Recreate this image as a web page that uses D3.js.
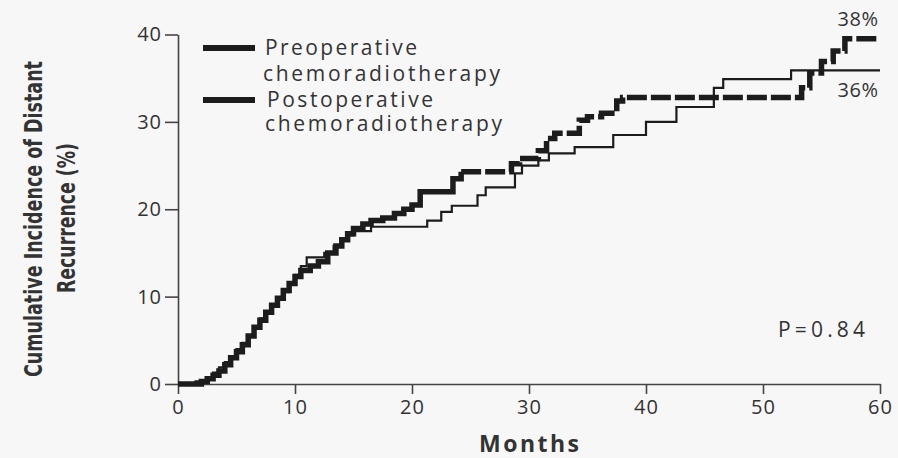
<!DOCTYPE html>
<html>
<head>
<meta charset="utf-8">
<script src="https://cdn.jsdelivr.net/npm/d3@7"></script>
<style>
  body { margin: 0; background: #f7f7f7; }
  text { fill: #333; }
</style>
</head>
<body>
<div id="chart"></div>
<script>
// Cumulative incidence of distant recurrence
const preopMonths = [0, 1.5, 2.5, 3, 3.5, 4, 4.5, 5, 5.5, 6, 6.5, 7, 7.5, 8, 8.5, 9, 9.5, 10, 10.5, 11, 12.5, 13.3, 14, 14.5, 15, 16.5,
  21.3, 22.5, 23.4, 25.6, 26.3, 28.8, 29.4, 30.8, 31.7, 33.9, 37.2, 40.0, 42.6, 45.8, 46.6, 52.4, 60];
const preopValues = [0, 0.3, 0.8, 1.3, 1.9, 2.5, 3.2, 4, 4.7, 5.5, 6.5, 7.5, 8.2, 9, 9.8, 10.5, 11.5, 12.5, 13.5, 14.5, 15, 15.8, 16.5, 17, 17.5, 18,
  18.7, 19.7, 20.4, 21.6, 22.5, 24.1, 25, 25.6, 26.4, 27.1, 28.5, 30, 31.7, 33.9, 34.9, 35.9, 35.9];

const postopMonths = [0, 2, 2.5, 3, 3.5, 4, 4.5, 5, 5.5, 6, 6.5, 7, 7.5, 8, 8.5, 9, 9.5, 10, 10.5, 11.3, 12, 12.8, 13.5, 14, 14.5, 15, 15.8, 16.5, 17.5, 18.5, 19.3, 20, 20.7,
  23.5, 24.2, 28.5, 29.2, 30.8, 31.5, 32.2, 34.3, 35, 36.2, 37.5, 38, 53.3, 54, 55, 56, 57, 60];
const postopValues = [0, 0.3, 0.6, 1.0, 1.5, 2.2, 3.0, 3.7, 4.5, 5.5, 6.5, 7.3, 8.2, 9, 9.8, 10.7, 11.5, 12.3, 13, 13.5, 14, 15, 15.8, 16.5, 17.2, 17.8, 18.3, 18.7, 19, 19.5, 20, 20.5, 22,
  23.5, 24.3, 25.2, 25.8, 26.7, 28.1, 28.7, 30.2, 30.6, 31, 32.4, 32.8, 33.9, 35.6, 36.9, 38.1, 39.5, 39.5];

const xTicks = [0, 10, 20, 30, 40, 50, 60];
const yTicks = [0, 10, 20, 30, 40];
const legendLabels = [["Preoperative", "chemoradiotherapy"], ["Postoperative", "chemoradiotherapy"]];
const endLabels = ["38%", "36%"];
const pValue = "P=0.84";

const W = 898, H = 458;
const svg = d3.select("#chart").append("svg")
    .attr("width", W).attr("height", H);

svg.append("rect").attr("width", W).attr("height", H).attr("fill", "#f7f7f7");

const x = d3.scaleLinear().domain([0, 60]).range([178, 880]);
const y = d3.scaleLinear().domain([0, 40]).range([384, 34.5]);

const tickFont = "'Open Sans', 'DejaVu Sans', sans-serif";

// x axis
const gx = svg.append("g")
    .attr("transform", `translate(0,${y(0)})`)
    .call(d3.axisBottom(x).tickValues(xTicks).tickSize(10).tickPadding(6).tickSizeOuter(0));
// y axis
const gy = svg.append("g")
    .attr("transform", `translate(${x(0)},0)`)
    .call(d3.axisLeft(y).tickValues(yTicks).tickSize(13).tickPadding(3).tickSizeOuter(0));

[gx, gy].forEach(g => {
  g.select(".domain").attr("stroke", "#444").attr("stroke-width", 1.6);
  g.selectAll(".tick line").attr("stroke", "#444").attr("stroke-width", 1.6);
  g.selectAll(".tick text")
      .attr("font-family", tickFont)
      .attr("font-size", 20)
      .attr("letter-spacing", 1)
      .attr("fill", "#333");
});
gx.selectAll(".tick text").attr("dy", "0.72em");

// curves
const line = d3.line()
    .x(d => x(d[0]))
    .y(d => y(d[1]))
    .curve(d3.curveStepAfter);

const preop = preopMonths.map((m, i) => [m, preopValues[i]]);
const postop = postopMonths.map((m, i) => [m, postopValues[i]]);

svg.append("path")
    .datum(preop)
    .attr("d", line)
    .attr("fill", "none")
    .attr("stroke", "#1c1c1c")
    .attr("stroke-width", 2.2);

// thick curve: solid while it climbs fast, dashed on the later long plateaus
const splitAt = 24.2;
svg.append("path")
    .datum(postop.filter(d => d[0] <= splitAt))
    .attr("d", line)
    .attr("fill", "none")
    .attr("stroke", "#1c1c1c")
    .attr("stroke-width", 5.5);
svg.append("path")
    .datum(postop.filter(d => d[0] >= splitAt))
    .attr("d", line)
    .attr("fill", "none")
    .attr("stroke", "#1c1c1c")
    .attr("stroke-width", 5.5)
    .attr("stroke-dasharray", "20,4");

// legend
const legendY = [48, 100];
legendLabels.forEach((lines, i) => {
  svg.append("line")
      .attr("x1", 203).attr("x2", 255)
      .attr("y1", legendY[i]).attr("y2", legendY[i])
      .attr("stroke", "#1c1c1c").attr("stroke-width", 6);
  svg.append("text")
      .attr("x", 265 + i * 2).attr("y", legendY[i] + 7)
      .attr("font-family", tickFont).attr("font-size", 21)
      .attr("textLength", i === 0 ? 152 : 166)
      .text(lines[0]);
  svg.append("text")
      .attr("x", 263 + i * 2).attr("y", legendY[i] + 33 - i * 2)
      .attr("font-family", tickFont).attr("font-size", 21)
      .attr("textLength", 237)
      .text(lines[1]);
});

// end-of-curve labels
svg.append("text")
    .attr("x", 858).attr("y", 26)
    .attr("text-anchor", "middle")
    .attr("font-family", tickFont).attr("font-size", 20)
    .attr("letter-spacing", 0.5)
    .text(endLabels[0]);
svg.append("text")
    .attr("x", 858).attr("y", 97)
    .attr("text-anchor", "middle")
    .attr("font-family", tickFont).attr("font-size", 20)
    .attr("letter-spacing", 0.5)
    .text(endLabels[1]);

svg.append("text")
    .attr("x", 778).attr("y", 337)
    .attr("font-family", tickFont).attr("font-size", 21)
    .attr("textLength", 87)
    .text(pValue);

// axis titles
svg.append("text")
    .attr("x", 529).attr("y", 452)
    .attr("text-anchor", "middle")
    .attr("font-family", tickFont).attr("font-size", 23)
    .attr("font-weight", "bold")
    .attr("fill", "#222")
    .attr("textLength", 100)
    .text("Months");

const titleFont = "'Liberation Sans Narrow', 'DejaVu Sans Condensed', sans-serif";
const yTitle = svg.append("g").attr("transform", "rotate(-90)");
yTitle.append("text")
    .attr("x", -219).attr("y", 42)
    .attr("text-anchor", "middle")
    .attr("font-family", titleFont)
    .attr("font-size", 25)
    .attr("font-weight", "bold")
    .attr("fill", "#2a2a2a")
    .attr("textLength", 316)
    .attr("lengthAdjust", "spacingAndGlyphs")
    .text("Cumulative Incidence of Distant");
yTitle.append("text")
    .attr("x", -218).attr("y", 75)
    .attr("text-anchor", "middle")
    .attr("font-family", titleFont)
    .attr("font-size", 25)
    .attr("font-weight", "bold")
    .attr("fill", "#2a2a2a")
    .attr("textLength", 150)
    .attr("lengthAdjust", "spacingAndGlyphs")
    .text("Recurrence (%)");
</script>
</body>
</html>
